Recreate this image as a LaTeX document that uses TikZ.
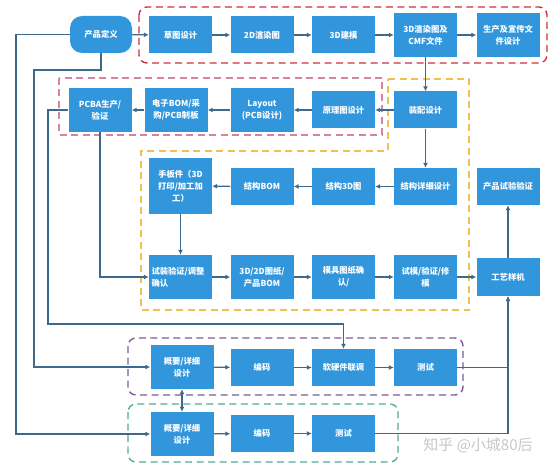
\documentclass[tikz,border=0pt]{standalone}
\usepackage{fontspec}
\setmainfont{Noto Sans CJK SC}
\usetikzlibrary{arrows.meta}
\definecolor{boxblue}{RGB}{50,150,220}
\definecolor{wire}{RGB}{60,105,140}
\definecolor{fred}{RGB}{208,48,64}
\definecolor{fpink}{RGB}{214,130,160}
\definecolor{fyellow}{RGB}{240,192,80}
\definecolor{fpurple}{RGB}{125,90,150}
\definecolor{fteal}{RGB}{80,170,155}
\begin{document}
\begin{tikzpicture}[x=1pt, y=-1pt,
    >={Latex[length=5pt,width=5pt]},
    box/.style={fill=boxblue, text=white, font=\bfseries\fontsize{8.3}{12}\selectfont,
      minimum width=63pt, minimum height=37pt, inner sep=2pt, align=center, text width=58pt},
    tall/.style={box, minimum height=44pt},
    round/.style={box, rounded corners=12pt, minimum width=62pt},
    arr/.style={->, draw=wire, line width=1.1pt},
    frame/.style={dash pattern=on 7pt off 4.5pt, line width=1.4pt}]
    \useasboundingbox (0,0) rectangle (554,468);
    \draw[frame, fred, rounded corners=8pt] (139,7) rectangle (547,63);
    \draw[frame, fpink] (59,78) rectangle (382,135);
    \draw[frame, fyellow] (388,79) -- (469,79) -- (469,310) -- (141,310) -- (141,151) -- (388,151) -- cycle;
    \draw[frame, fpurple, rounded corners=8pt] (128,338) rectangle (463,395);
    \draw[frame, fteal, rounded corners=8pt] (128,404) rectangle (398,462);

    \node[round] (def) at (101,34.5) {产品定义};
    \node[box] (sketch) at (180.5,35) {草图设计};
    \node[box] (rtwo) at (262,35) {2D渲染图};
    \node[box] (model) at (343.5,35) {3D建模};
    \node[tall] (rthree) at (425.5,35) {3D渲染图及\\CMF文件};
    \node[tall] (pubdoc) at (508,35) {生产及宣传文\\件设计};

    \node[tall] (pcba) at (100,110) {PCBA生产/\\验证};
    \node[tall] (ebom) at (176,110) {电子BOM/采\\购/PCB制板};
    \node[tall] (layout) at (262,110) {Layout\\(PCB设计)};
    \node[box] (schem) at (343.5,110) {原理图设计};
    \node[box] (asm) at (425.5,110) {装配设计};

    \node[box, minimum height=56pt] (proto) at (180.5,186) {手板件（3D\\打印/加工加\\工）};
    \node[box] (sbom) at (262,186.5) {结构BOM};
    \node[box] (sthree) at (343.5,186.5) {结构3D图};
    \node[box] (sdet) at (425.5,186.5) {结构详细设计};
    \node[box] (verify) at (508,186.5) {产品试验验证};

    \node[tall, align=left] (fit) at (180.5,277) {试装验证/调整\\确认};
    \node[tall] (drawing) at (262,277) {3D/2D图纸/\\产品BOM};
    \node[tall] (mold) at (343.5,277) {模具图纸确\\认/};
    \node[tall] (trial) at (425.5,277) {试模/验证/修\\模};
    \node[box, minimum height=38pt] (proc) at (508,277) {工艺样机};

    \node[tall] (swa) at (182,367) {概要/详细\\设计};
    \node[box] (codea) at (262,367.5) {编码};
    \node[box] (joint) at (343.5,367.5) {软硬件联调};
    \node[box] (testa) at (425.5,367.5) {测试};

    \node[tall] (swb) at (182,434) {概要/详细\\设计};
    \node[box] (codeb) at (262,433.5) {编码};
    \node[box] (testb) at (343.5,433.5) {测试};

    \node[text=black!22, font=\fontsize{15}{15}\selectfont] (mark) at (478,445) {知乎 @小城80后};

    \draw[arr] (def) -- (sketch);
    \draw[arr] (sketch) -- (rtwo);
    \draw[arr] (rtwo) -- (model);
    \draw[arr] (model) -- (rthree);
    \draw[arr] (rthree) -- (pubdoc);
    \draw[arr] (rthree) -- (asm);
    \draw[arr] (asm) -- (schem);
    \draw[arr] (schem) -- (layout);
    \draw[arr] (layout) -- (ebom);
    \draw[arr] (ebom) -- (pcba);
    \draw[arr] (asm) -- (sdet);
    \draw[arr] (sdet) -- (sthree);
    \draw[arr] (sthree) -- (sbom);
    \draw[arr] (sbom) -- (proto);
    \draw[arr] (proto) -- (fit);
    \draw[arr] (fit) -- (drawing);
    \draw[arr] (drawing) -- (mold);
    \draw[arr] (mold) -- (trial);
    \draw[arr] (trial) -- (proc);
    \draw[arr] (proc) -- (verify);
    \draw[arr] (swa) -- (codea);
    \draw[arr] (codea) -- (joint);
    \draw[arr] (joint) -- (testa);
    \draw[arr] (swb) -- (codeb);
    \draw[arr] (codeb) -- (testb);
    \draw[arr, <->] (swa) -- (swb);
    \draw[arr] (def.west) -- (16,34.5) |- (swb.west);
    \draw[arr] (def.south) |- (34,70) |- (swa.west);
    \draw[arr] (pcba.west) -| (48,324) -| (joint.north);
    \draw[arr] (pcba.south) |- (fit.west);
    \draw[arr] (testa.east) -| (proc.south);
    \draw[arr] (testb.east) -| (proc.south);
\end{tikzpicture}
\end{document}
